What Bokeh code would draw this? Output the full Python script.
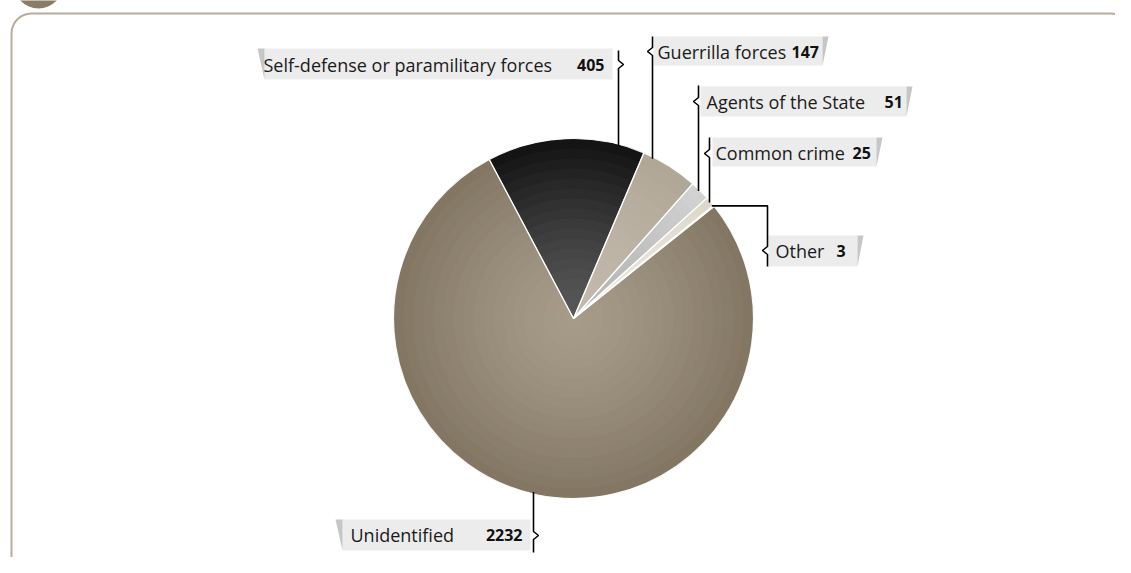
import math
from bokeh.plotting import figure
from bokeh.models import Range1d, ColumnDataSource
from bokeh.core.properties import value
from bokeh.embed import file_html
from bokeh.resources import INLINE

# ---------------- data ----------------
categories = ["Self-defense or paramilitary forces", "Guerrilla forces",
              "Agents of the State", "Common crime", "Other", "Unidentified"]
counts = [405, 147, 51, 25, 3, 2232]
count_labels = ["405", "147", "51", "25", "3", "2232"]

# ---------------- styles ----------------
inner_colors = ["#575757", "#c3baad", "#b4b4b4", "#ece8de", "#9a9a9a", "#a69b89"]
outer_colors = ["#141414", "#b1a797", "#d2d2d2", "#ddd8cb", "#6a6a6a", "#837764"]

W, H = 1115, 557
def Y(v):  # image y -> data y
    return 573 - v

p = figure(width=W, height=H, output_backend="svg", toolbar_location=None,
           x_range=Range1d(0, W), y_range=Range1d(573 - H, 573),
           min_border=0, outline_line_color=None)
p.axis.visible = False
p.grid.visible = False
p.background_fill_color = "white"
p.border_fill_color = "white"

# ---------------- frame (rounded border) ----------------
def rounded_path(x0, y0, x1, y1, r, n=12):
    pts = []
    for ccx, ccy, a0 in [(x0 + r, y0 + r, 180), (x1 - r, y0 + r, 270),
                         (x1 - r, y1 - r, 0), (x0 + r, y1 - r, 90)]:
        for k in range(n + 1):
            a = math.radians(a0 + 90 * k / n)
            pts.append((ccx + r * math.cos(a), ccy + r * math.sin(a)))
    pts.append(pts[0])
    return [q[0] for q in pts], [Y(q[1]) for q in pts]

bx, by = rounded_path(11, 13, 1130, 582, 20)
p.line(bx, by, line_color="#b7ac9c", line_width=2)
# small badge at top-left
p.ellipse(x=38, y=Y(-18), width=50, height=52, fill_color="#8a7c66", line_color=None)

# ---------------- pie ----------------
cx, cy, R = 573, Y(318), 180
total = float(sum(counts))
start0 = math.radians(117.9)

def hex2rgb(h):
    h = h.lstrip("#")
    return tuple(int(h[i:i + 2], 16) for i in (0, 2, 4))

def mix(c1, c2, t):
    a, b = hex2rgb(c1), hex2rgb(c2)
    return "#%02x%02x%02x" % tuple(int(round(a[i] + (b[i] - a[i]) * t)) for i in range(3))

starts, ends = [], []
acc = 0.0
for v in counts:
    s = start0 - 2 * math.pi * acc / total
    acc += v
    e = start0 - 2 * math.pi * acc / total
    starts.append(s)
    ends.append(e)

# radial shading: stacked wedges, outermost first
N = 18
ring = dict(x=[], y=[], r=[], s=[], e=[], c=[])
for k in range(N - 1, -1, -1):
    t = k / (N - 1)
    for i in range(len(counts)):
        ring["x"].append(cx); ring["y"].append(cy)
        ring["r"].append(R * (k + 1) / N)
        ring["s"].append(starts[i]); ring["e"].append(ends[i])
        ring["c"].append(mix(inner_colors[i], outer_colors[i], t ** 1.3))
src = ColumnDataSource(ring)
p.wedge(x="x", y="y", radius="r", start_angle="s", end_angle="e", direction="clock",
        fill_color="c", line_color=None, source=src)
# slice separators
wsrc = ColumnDataSource(dict(x=[cx] * len(counts), y=[cy] * len(counts),
                             s=starts, e=ends, cat=categories))
p.wedge(x="x", y="y", radius=R, start_angle="s", end_angle="e", direction="clock",
        fill_color=None, line_color="white", line_width=1.2, line_alpha=0.9, source=wsrc)

# ---------------- labels ----------------
layout = [
    dict(box=(264, 612, 48, 79), shadow="left", tx=263, nx=604, nalign="right", ty=64,
         lx=618, ltop=50, brace=64, bdir=1, side="top"),
    dict(box=(653, 822, 36, 65), shadow="right", tx=657, nx=791, nalign="left", ty=51,
         lx=652, ltop=36, brace=51, bdir=-1, side="top"),
    dict(box=(700, 906, 86, 116), shadow="right", tx=706, nx=884, nalign="left", ty=101,
         lx=698, ltop=85, brace=101, bdir=-1, side="top"),
    dict(box=(712, 876, 137, 166), shadow="right", tx=715, nx=852, nalign="left", ty=152,
         lx=709, ltop=137, brace=153, bdir=-1, side="top"),
    dict(box=(768, 857, 235, 266), shadow="right", tx=775, nx=836, nalign="left", ty=250,
         lx=767, lbot=266, brace=250, bdir=-1, side="elbow"),
    dict(box=(342, 530, 519, 550), shadow="left", tx=350, nx=522, nalign="right", ty=534,
         lx=533, lbot=552, brace=535, bdir=1, side="bottom"),
]

for i, L in enumerate(layout):
    x0, x1, t, b = L["box"]
    p.quad(left=x0, right=x1, top=Y(t), bottom=Y(b), fill_color="#ececec", line_color=None)
    if L["shadow"] == "left":
        p.patch([x0 - 7, x0, x0], [Y(t), Y(t), Y(b)], fill_color="#c6c6c6", line_color=None)
    else:
        p.patch([x1, x1 + 6, x1], [Y(t), Y(t), Y(b)], fill_color="#c6c6c6", line_color=None)

    p.text(x=[L["tx"]], y=[Y(L["ty"])], text=[categories[i]],
           text_font=value("Open Sans"), text_font_size="18px",
           text_color="#1a1a1a", text_baseline="middle", text_align="left")
    p.text(x=[L["nx"]], y=[Y(L["ty"])], text=[count_labels[i]],
           text_font=value("Open Sans"), text_font_size="16px", text_font_style="bold",
           text_color="#111111", text_baseline="middle", text_align=L["nalign"])

    lx, yb, d = L["lx"], L["brace"], L["bdir"]
    notch_x = [lx, lx, lx + 5 * d, lx, lx]
    notch_y = [Y(yb - 7), Y(yb - 4), Y(yb), Y(yb + 4), Y(yb + 7)]
    if L["side"] == "top":
        yend = cy + math.sqrt(R * R - (lx - cx) ** 2) - 2
        xs = [lx] + notch_x + [lx]
        ys = [Y(L["ltop"])] + notch_y + [yend]
    elif L["side"] == "bottom":
        ystart = cy - math.sqrt(R * R - (lx - cx) ** 2) + 2
        xs = [lx] + notch_x + [lx]
        ys = [ystart] + notch_y + [Y(L["lbot"])]
    else:
        mid = (starts[i] + ends[i]) / 2
        ax = cx + R * math.cos(mid)
        ay = cy + R * math.sin(mid)
        xs = [ax - 2, lx] + notch_x + [lx]
        ys = [ay, ay] + notch_y + [Y(L["lbot"])]
    p.line(xs, ys, line_color="black", line_width=1.6)

open("out.html", "w").write(file_html(p, INLINE))
